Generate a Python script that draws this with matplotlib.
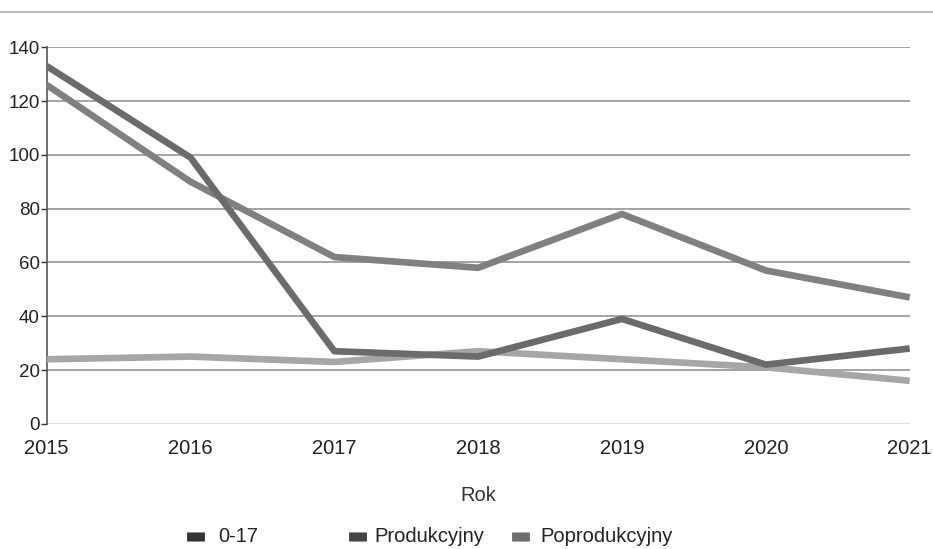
import matplotlib.pyplot as plt
from matplotlib.patches import FancyBboxPatch

years = [2015, 2016, 2017, 2018, 2019, 2020, 2021]
produkcyjny = [133, 99, 27, 25, 39, 22, 28]
poprodukcyjny = [126, 90, 62, 58, 78, 57, 47]
wiek_0_17 = [24, 25, 23, 27, 24, 21, 16]
yticks = [0, 20, 40, 60, 80, 100, 120, 140]

legend_labels = ['0-17', 'Produkcyjny', 'Poprodukcyjny']
legend_colors = ['#333333', '#444444', '#6e6e6e']

plt.rcParams['font.family'] = ['Liberation Sans', 'DejaVu Sans']

fig = plt.figure(figsize=(9.33, 5.49), dpi=100)
ax = fig.add_axes([0.050, 0.228, 0.925, 0.686])

# horizontal grid
for v in yticks[1:]:
    ax.axhline(v, color='#8c8c8c', lw=1.1, zorder=1)
ax.axhline(0, color='#cfcfcf', lw=1.1, zorder=1)

ax.plot(years, wiek_0_17, color='#a6a6a6', lw=4.8, solid_capstyle='butt', zorder=3)
ax.plot(years, poprodukcyjny, color='#808080', lw=4.8, solid_capstyle='butt', zorder=4)
ax.plot(years, produkcyjny, color='#6b6b6b', lw=4.8, solid_capstyle='butt', zorder=5)

ax.set_xlim(2015, 2021)
ax.set_ylim(0, 140)
ax.set_yticks(yticks)
ax.set_xticks(years)
ax.tick_params(axis='y', length=4, width=1, color='#333333', labelsize=13.5, pad=1,
               labelcolor='#222222')
ax.tick_params(axis='x', length=0, labelsize=14.5, pad=11, labelcolor='#222222')

for s in ['top', 'right', 'bottom']:
    ax.spines[s].set_visible(False)
ax.spines['left'].set_color('#555555')
ax.spines['left'].set_linewidth(1.2)

ax.set_xlabel('Rok', fontsize=14.5, color='#333333', labelpad=20)

# faint header rule from the scan
fig.add_artist(plt.Line2D([0, 1], [0.978, 0.978], color='#bdbdbd', lw=1.5))

# legend laid out by hand to keep the uneven spacing of the original
marker_x = [188, 350, 513]
text_x = [218, 374, 540]
W, H = fig.get_size_inches() * fig.dpi
y_leg = 1 - 537 / H
for mx, tx, lab, col in zip(marker_x, text_x, legend_labels, legend_colors):
    fig.add_artist(FancyBboxPatch((mx / W, y_leg - 4 / H), 16 / W, 8 / H,
                                  boxstyle='round,pad=0.001', transform=fig.transFigure,
                                  facecolor=col, edgecolor='none'))
    fig.text(tx / W, y_leg, lab, fontsize=14.5, color='#222222', va='center', ha='left')

fig.savefig('out.png', dpi=100)
